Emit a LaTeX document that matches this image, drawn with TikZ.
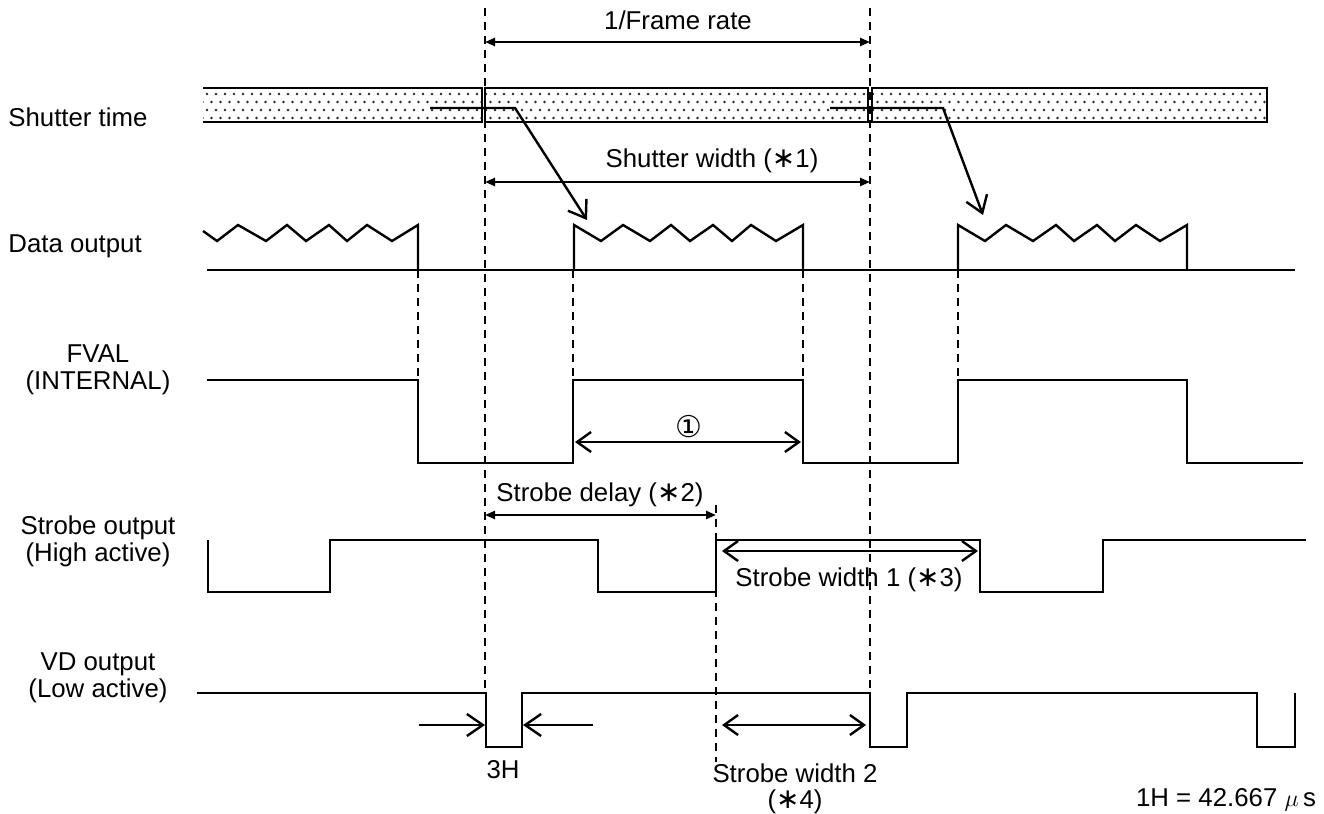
\documentclass[tikz,border=0pt]{standalone}
\usepackage{fontspec}
\setmainfont{Liberation Sans}
\newfontfamily\circnum{DejaVu Sans}
\usetikzlibrary{arrows.meta, positioning, calc, patterns.meta}

\newcommand\bigast{{\circnum\fontsize{14}{14}\selectfont ∗}}

\tikzdeclarepattern{
  name=shutterdots,
  type=uncolored,
  bottom left={(-1pt,-1pt)},
  top right={(4pt,5pt)},
  tile size={(4.5pt,8pt)},
  code={
      \fill (0pt,0pt) circle [radius=0.7pt];
      \fill (2.25pt,4pt) circle [radius=0.7pt];
    }
}

\begin{document}
\begin{tikzpicture}[
        x=0.5pt, y=-0.5pt,
        font=\fontsize{12.9}{13.5}\selectfont,
        wave/.style={line width=1.2pt, line join=miter},
        guide/.style={line width=1pt, dash pattern=on 4pt off 3pt},
        shutterbar/.style={pattern=shutterdots, pattern color=black!85},
        dimfill/.style={{Triangle[length=5pt,width=4pt]}-{Triangle[length=5pt,width=4pt]}, line width=1.2pt},
        dimopen/.style={{Straight Barb[length=7pt,width=10pt]}-{Straight Barb[length=7pt,width=10pt]}, line width=1.2pt},
        pointer/.style={-{Straight Barb[length=8pt,width=11pt]}, line width=1.2pt},
        siglabel/.style={align=center, inner sep=0pt},
        dimlabel/.style={inner sep=0pt}
    ]

    \useasboundingbox (0,0) rectangle (1324,814);

    % ===== Signal names =====
    \node[siglabel, anchor=west] (shutter) at (8,117) {Shutter time};
    \node[siglabel, anchor=west] (data) at (8,246) {Data output};
    \node[siglabel] (fval) at (98,370) {FVAL\\(INTERNAL)};
    \node[siglabel] (strobe) at (98,541) {Strobe output\\(High active)};
    \node[siglabel] (vd) at (98,678) {VD output\\(Low active)};

    % ===== Guide lines =====
    \draw[guide] (485,8) -- (485,693);
    \draw[guide] (870,8) -- (870,693);
    \draw[guide] (418,270) -- (418,380);
    \draw[guide] (573,270) -- (573,380);
    \draw[guide] (803,270) -- (803,380);
    \draw[guide] (958,270) -- (958,380);
    \draw[guide] (716,505) -- (716,762);

    % ===== Shutter time =====
    \fill[shutterbar] (203,88) rectangle (482,122);
    \draw[wave] (203,88) -- (482,88) -- (482,122) -- (203,122);
    \draw[wave, shutterbar] (485,88) rectangle (868,122);
    \draw[wave, shutterbar] (872,88) rectangle (1267,122);

    % exposure to readout
    \draw[pointer] (430,108) -- (515,108) -- (587,220);
    \draw[pointer] (830,108) -- (943,108) -- (983,215);

    % ===== Data output =====
    \draw[wave] (207,270) -- (1295,270);
    \draw[wave] (203,231) -- (217,241) -- (238,225) -- (266,241) -- (287,225) -- (306,241)
        -- (329,225) -- (347,241) -- (367,225) -- (392,241) -- (418,225) -- (418,270);
    \draw[wave] (574,270) -- (574,225) -- (601,241) -- (623,225) -- (650,241) -- (671,225)
        -- (690,241) -- (713,225) -- (732,241) -- (751,225) -- (776,241) -- (803,225) -- (803,270);
    \draw[wave] (958,270) -- (958,225) -- (985,241) -- (1006,225) -- (1033,241) -- (1056,225)
        -- (1074,241) -- (1097,225) -- (1115,241) -- (1136,225) -- (1160,241) -- (1187,225) -- (1187,270);

    % ===== FVAL =====
    \draw[wave] (207,380) -- (418,380) -- (418,463) -- (573,463) -- (573,380) -- (803,380)
        -- (803,463) -- (958,463) -- (958,380) -- (1187,380) -- (1187,463) -- (1303,463);

    % ===== Strobe output =====
    \draw[wave] (208,540) -- (208,592) -- (330,592) -- (330,540) -- (598,540) -- (598,592)
        -- (716,592) -- (716,540) -- (980,540) -- (980,592) -- (1103,592) -- (1103,540) -- (1306,540);

    % ===== VD output =====
    \draw[wave] (197,693) -- (486,693) -- (486,747) -- (522,747) -- (522,693) -- (870,693)
        -- (870,747) -- (907,747) -- (907,693) -- (1257,693) -- (1257,747) -- (1295,747) -- (1295,693);

    % ===== Dimensions =====
    \coordinate (frameL) at (485,42);
    \coordinate (frameR) at (870,42);
    \draw[dimfill] (frameL) -- (frameR);
    \node[dimlabel] (framelbl) at (678,20) {1/Frame rate};

    \coordinate (shutL) at (485,182);
    \coordinate (shutR) at (870,182);
    \draw[dimfill] (shutL) -- (shutR);
    \node[dimlabel] (shutlbl) at (712,161) {Shutter width (\bigast1)};

    \coordinate (fvalL) at (575,442);
    \coordinate (fvalR) at (801,442);
    \draw[dimopen] (fvalL) -- (fvalR);
    \node[dimlabel, font=\circnum\fontsize{15}{15}\selectfont] (onelbl) at (689,427) {①};

    \coordinate (delayL) at (485,515);
    \coordinate (delayR) at (716,515);
    \draw[dimfill] (delayL) -- (delayR);
    \node[dimlabel] (delaylbl) at (600,495) {Strobe delay (\bigast2)};

    \coordinate (sw1L) at (722,551);
    \coordinate (sw1R) at (978,551);
    \draw[dimopen] (sw1L) -- (sw1R);
    \node[dimlabel] (sw1lbl) at (849,580) {Strobe width 1 (\bigast3)};

    \coordinate (sw2L) at (722,725);
    \coordinate (sw2R) at (866,725);
    \draw[dimopen] (sw2L) -- (sw2R);
    \node[dimlabel] (sw2lbl) at (795,773) {Strobe width 2};
    \node[dimlabel] (sw2note) at (795,802) {(\bigast4)};

    % 3H pulse
    \coordinate (hL) at (419,725);
    \coordinate (hR) at (593,725);
    \draw[pointer] (hL) -- (485,725);
    \draw[pointer] (hR) -- (523,725);
    \node[dimlabel] (hlbl) at (503,770) {3H};

    \node[dimlabel] (unitlbl) at (1226,800) {1H = 42.667 $\mu$\,s};

\end{tikzpicture}
\end{document}
